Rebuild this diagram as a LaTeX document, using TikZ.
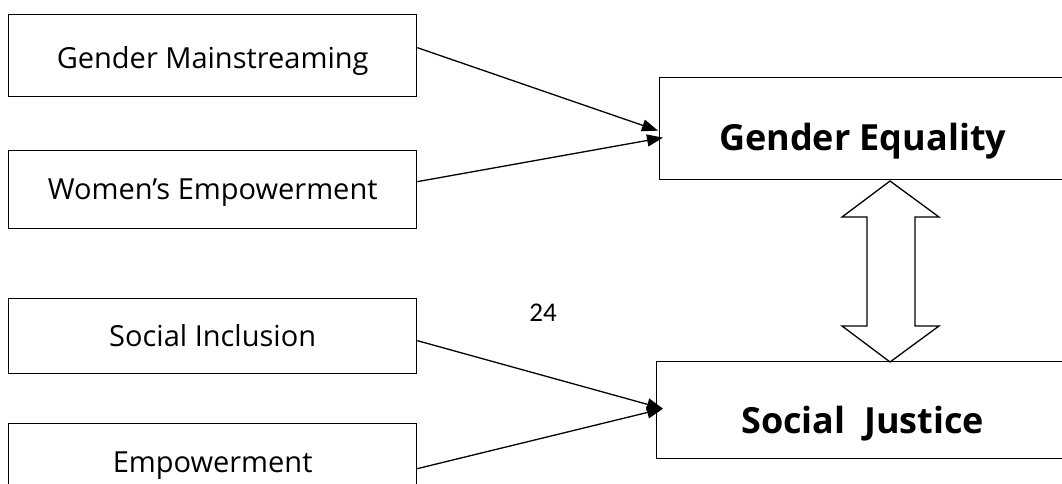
\documentclass[tikz,border=0pt]{standalone}
\usepackage{fontspec}
\setmainfont{Open Sans}
\newfontfamily\numfont{Carlito}
\usetikzlibrary{arrows.meta,calc}
\tikzset{
  leftbox/.style={draw, line width=1.3pt, minimum width=408pt, minimum height=80pt, inner sep=0pt, anchor=north west},
  bigbox/.style={draw, line width=1.3pt, inner sep=0pt, anchor=north west},
  lbl/.style={font=\fontsize{29}{32}\selectfont, anchor=base, inner sep=0pt},
  biglbl/.style={font=\fontsize{36}{40}\selectfont\bfseries, anchor=base, inner sep=0pt},
  conn/.style={line width=1.3pt, -{Triangle[length=16pt,width=12pt]}},
  dblarrow/.style={draw, line width=1.3pt, fill=white, line join=miter}
}
\begin{document}
\begin{tikzpicture}[x=1pt,y=-1pt]
\useasboundingbox (0,0) rectangle (1062,484);
\clip (0,0) rectangle (1062,484);
% left boxes
\node[leftbox, minimum height=82pt] (gm) at (8,14) {};
\node[leftbox, minimum height=78pt] (we) at (8,150) {};
\node[leftbox, minimum height=75pt] (si) at (8,298) {};
\node[leftbox, minimum height=78pt] (em) at (8,423) {};
\node[lbl] (gmt) at ([yshift=-13pt]gm.center) {Gender Mainstreaming};
\node[lbl] (wet) at ([yshift=-10pt]we.center) {Women’s Empowerment};
\node[lbl] (sit) at ([yshift=-10.5pt]si.center) {Social Inclusion};
\node[lbl] (emt) at ([yshift=-10pt]em.center) {Empowerment};
% right boxes
\node[bigbox, minimum width=406pt, minimum height=102pt] (ge) at (659,77) {};
\node[bigbox, minimum width=412pt, minimum height=97pt] (sj) at (656,361) {};
\node[biglbl] (get) at ([yshift=-22pt]ge.center) {Gender Equality};
\node[biglbl] (sjt) at ([yshift=-23.5pt]sj.center) {Social\ \ Justice};
% page number
\node[font=\numfont\fontsize{27}{30}\selectfont, inner sep=0pt] (pg) at (543,313) {24};
% connectors
\draw[conn] ([yshift=8pt]gm.east) -- ([xshift=-1pt,yshift=-2pt]ge.west);
\draw[conn] ([yshift=8pt]we.east) -- ([xshift=4pt,yshift=-9pt]ge.west);
\draw[conn] ([yshift=-4.5pt]si.east) -- ([xshift=7pt,yshift=1.5pt]sj.west);
\draw[conn] ([yshift=-6pt]em.east) -- ([xshift=7pt,yshift=1.5pt]sj.west);
% double arrow
\draw[dblarrow] (890,181) -- (939,217) -- (915,217) -- (915,326) -- (939,326) -- (890,362)
  -- (842,326) -- (867,326) -- (867,217) -- (842,217) -- cycle;
\end{tikzpicture}
\end{document}
